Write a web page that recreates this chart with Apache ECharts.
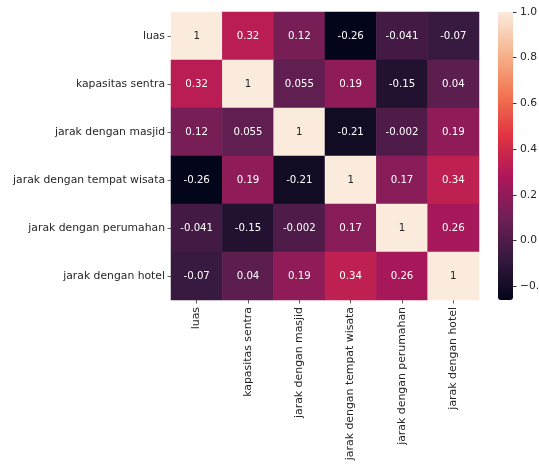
<!DOCTYPE html>
<html>
<head>
<meta charset="utf-8">
<script src="https://cdn.jsdelivr.net/npm/echarts@6/dist/echarts.min.js"></script>
<style>
  html, body { margin: 0; padding: 0; background: #ffffff; }
  #chart { width: 539px; height: 466px; }
</style>
</head>
<body>
<div id="chart"></div>
<script>
// Feature names (rows top-to-bottom, columns left-to-right)
const features = [
  'luas',
  'kapasitas sentra',
  'jarak dengan masjid',
  'jarak dengan tempat wisata',
  'jarak dengan perumahan',
  'jarak dengan hotel'
];

// Correlation matrix, one array per row
const rowLuas      = [1, 0.32, 0.12, -0.26, -0.041, -0.07];
const rowKapasitas = [0.32, 1, 0.055, 0.19, -0.15, 0.04];
const rowMasjid    = [0.12, 0.055, 1, -0.21, -0.002, 0.19];
const rowWisata    = [-0.26, 0.19, -0.21, 1, 0.17, 0.34];
const rowPerumahan = [-0.041, -0.15, -0.002, 0.17, 1, 0.26];
const rowHotel     = [-0.07, 0.04, 0.19, 0.34, 0.26, 1];
const matrix = [rowLuas, rowKapasitas, rowMasjid, rowWisata, rowPerumahan, rowHotel];

// Colour scale range and colorbar ticks
const scaleMin = -0.26;
const scaleMax = 1.0;
const colorbarTicks = [-0.2, 0.0, 0.2, 0.4, 0.6, 0.8, 1.0];

// "rocket" palette sampled at even steps
const rocket = ['#03051A', '#35193E', '#701F57', '#AD1759', '#E13342', '#F37651', '#F6B48F', '#FAEBDD'];

const cells = [];
matrix.forEach((row, r) => {
  row.forEach((v, c) => {
    cells.push({
      value: [c, r, v],
      label: { color: v > 0.75 ? '#262626' : '#ffffff' }
    });
  });
});

const font = 'DejaVu Sans';
const chart = echarts.init(document.getElementById('chart'));
chart.setOption({
  backgroundColor: '#ffffff',
  animation: false,
  grid: [
    { left: 171, top: 12, width: 308, height: 288, containLabel: false, outerBoundsMode: 'none' },
    { left: 498, top: 12, width: 15, height: 288, containLabel: false, outerBoundsMode: 'none' }
  ],
  xAxis: [
    {
      type: 'category', gridIndex: 0, data: features, position: 'bottom',
      axisLine: { show: false },
      axisTick: { show: true, alignWithLabel: true, length: 3.5, lineStyle: { color: '#333333', width: 0.8 } },
      axisLabel: { rotate: 90, margin: 7, fontFamily: font, fontSize: 10.9, color: '#262626' },
      splitLine: { show: false }
    },
    { type: 'value', gridIndex: 1, show: false, min: 0, max: 1 }
  ],
  yAxis: [
    {
      type: 'category', gridIndex: 0, data: features, inverse: true,
      axisLine: { show: false },
      axisTick: { show: true, alignWithLabel: true, length: 3.5, lineStyle: { color: '#333333', width: 0.8 } },
      axisLabel: { margin: 6, fontFamily: font, fontSize: 10.8, color: '#262626' },
      splitLine: { show: false }
    },
    {
      type: 'value', gridIndex: 1, position: 'right', min: scaleMin, max: scaleMax,
      axisLine: { show: false, onZero: false },
      splitLine: { show: false },
      axisTick: { show: true, inside: false, length: 3.5, customValues: colorbarTicks, lineStyle: { color: '#333333', width: 1 } },
      axisLabel: {
        margin: 7, fontFamily: font, fontSize: 10.7, color: '#262626',
        customValues: colorbarTicks,
        formatter: v => (Math.abs(v) < 1e-9 ? '0.0' : v.toFixed(1).replace('-', '\u2212'))
      }
    }
  ],
  visualMap: {
    type: 'continuous',
    min: scaleMin, max: scaleMax,
    seriesIndex: 0,
    orient: 'vertical',
    left: 498, top: 12,
    padding: 0,
    itemWidth: 15, itemHeight: 288,
    calculable: false,
    hoverLink: false,
    showLabel: false,
    text: null,
    inRange: { color: rocket }
  },
  series: [
    {
      type: 'heatmap',
      xAxisIndex: 0, yAxisIndex: 0,
      data: cells,
      label: {
        show: true, fontFamily: font, fontSize: 10.2,
        formatter: p => String(p.value[2])
      },
      itemStyle: { borderWidth: 0 },
      emphasis: { disabled: true }
    },
    {
      // placeholder so the colorbar axis is laid out
      type: 'line', xAxisIndex: 1, yAxisIndex: 1,
      data: [], silent: true
    }
  ]
});
</script>
</body>
</html>
